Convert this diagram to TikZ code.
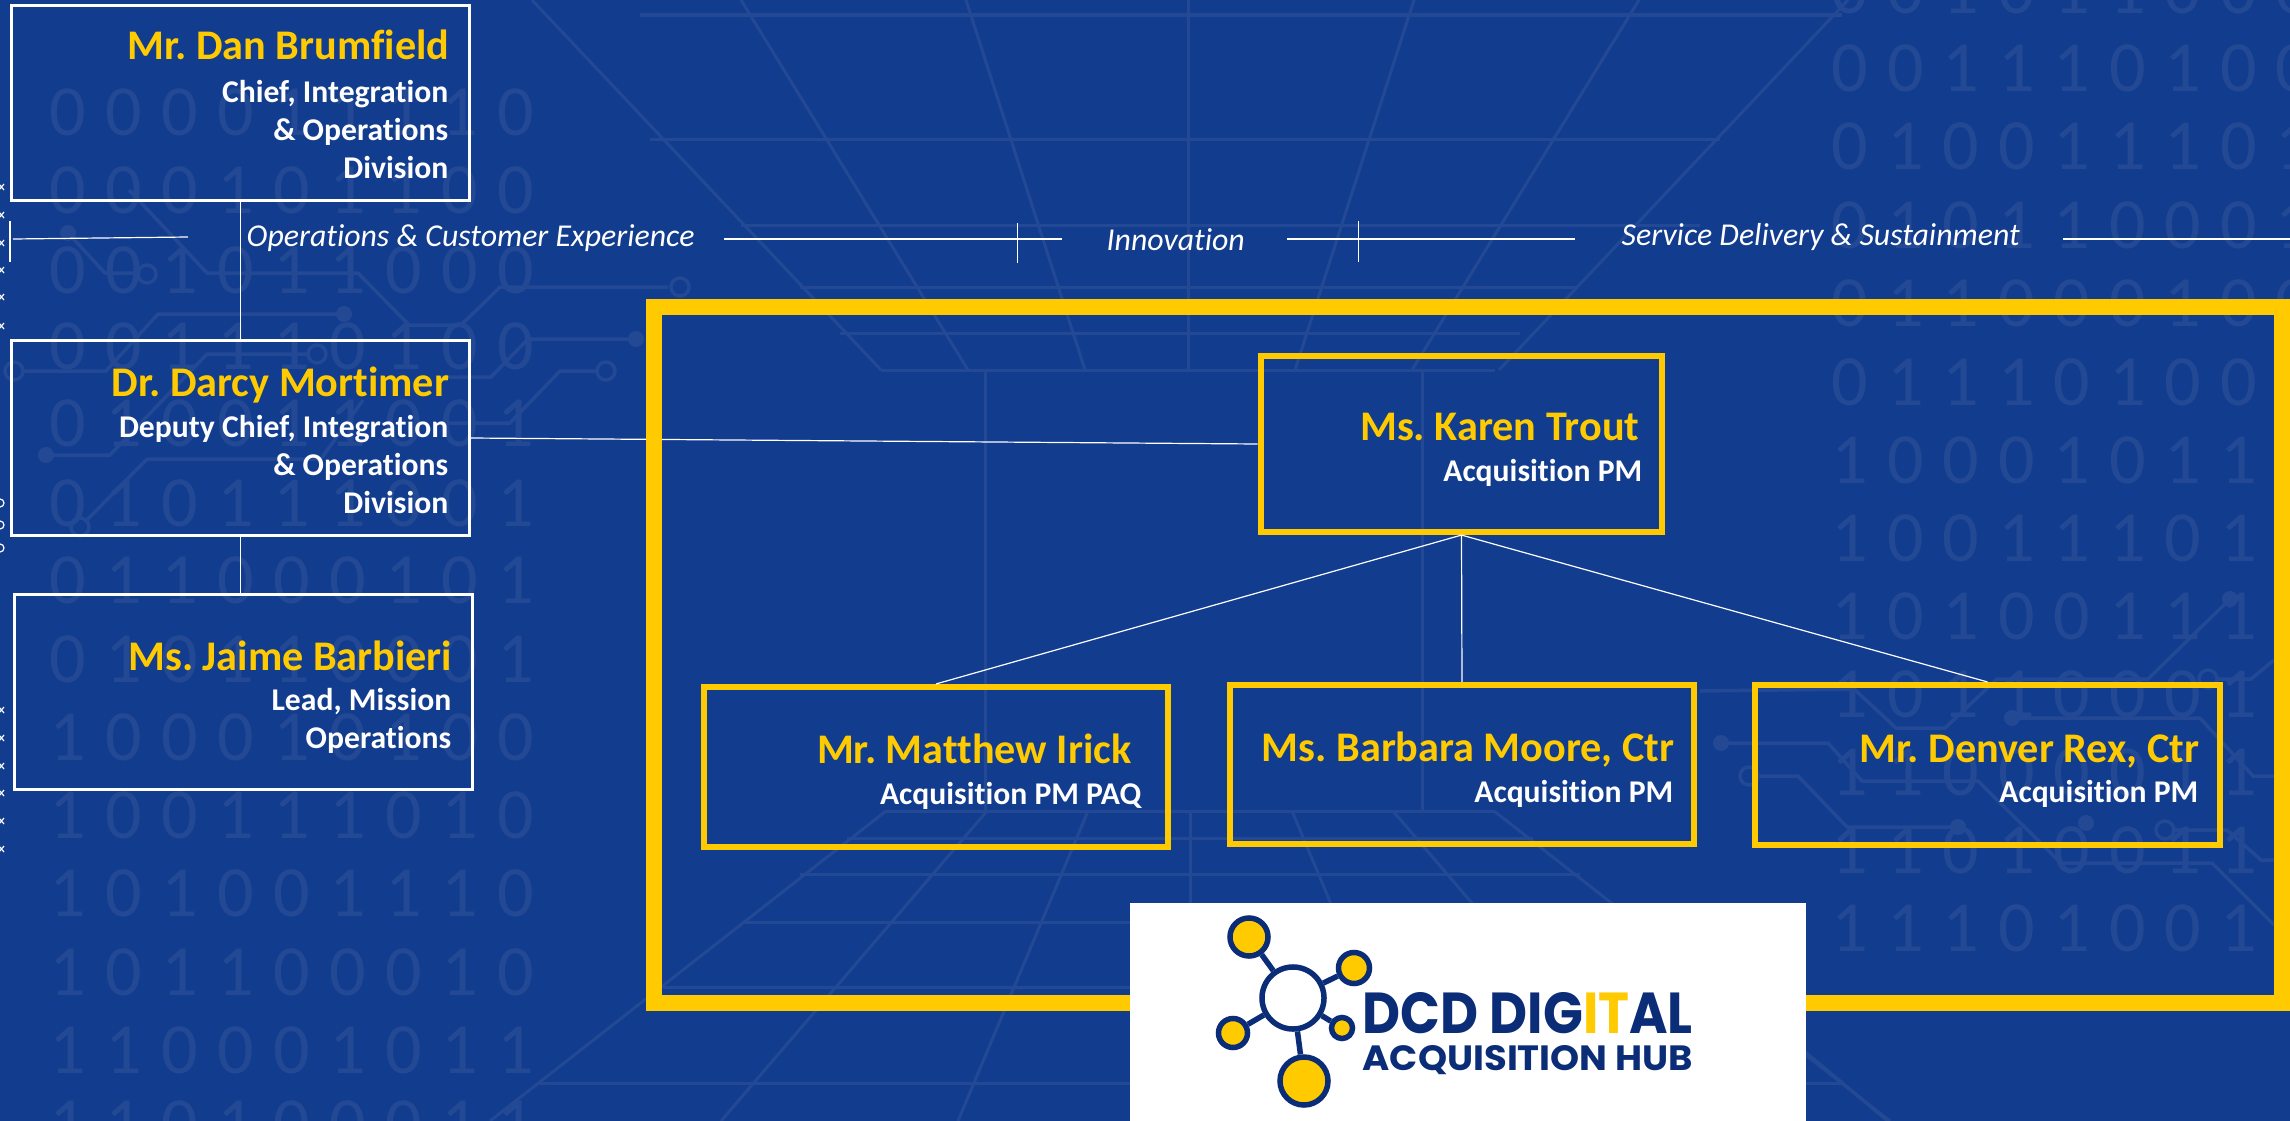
\documentclass[tikz,border=0pt]{standalone}
\usepackage{fontspec}
\setmainfont{Carlito}[Ligatures=NoCommon]
\newfontfamily\logofont{Poppins}
\usetikzlibrary{shapes,backgrounds}
\usetikzlibrary{calc}
\definecolor{bgblue}{HTML}{123C8E}
\definecolor{faintblue}{HTML}{234995}
\definecolor{gold}{HTML}{FFCB00}
\definecolor{logonavy}{HTML}{0B2D78}
\frenchspacing
\tikzset{
  x=0.01cm,y=-0.01cm,
  whitebox/.style={draw=white,line width=0.03cm,rectangle,inner sep=0pt},
  goldbox/.style={draw=gold,line width=0.06cm,rectangle,inner sep=0pt},
  person/.style={anchor=base east,inner sep=0pt,text=gold,font=\fontsize{12}{13}\selectfont\bfseries},
  role/.style={anchor=base east,inner sep=0pt,text=white,align=right,font=\fontsize{9}{10.8}\selectfont\bfseries},
  theme/.style={anchor=base west,inner sep=0pt,text=white,font=\fontsize{9.05}{10}\selectfont\itshape},
  wire/.style={draw=white,line width=0.012cm},
  trace/.style={draw=faintblue,line width=0.035cm},
  gridline/.style={draw=faintblue,line width=0.03cm},
  bit/.style={inner sep=0pt,text=faintblue,font=\fontsize{20.5}{22}\selectfont},
  sat/.style={circle,draw=logonavy,fill=gold,line width=0.055cm,inner sep=0pt}
}
\begin{document}
\begin{tikzpicture}
\useasboundingbox (0,0) rectangle (2290,1121);
\fill[bgblue] (0,0) rectangle (2290,1121);

% background grid
\foreach \yy/\xa/\xb in {15/640/1842,139/650/1720,225/741/1700,287/800/1575,333/840/1520,370/881/1495,811/886/1494,838/847/1533,874/800/1580,922/742/1638,987/663/1717,1083/537/1843}
  \draw[gridline] (\xa,\yy) -- (\xb,\yy);
\foreach \xa/\xb in {532/881,741/968,966/1085,1848/1499,1639/1412,1414/1295}
  \draw[gridline] (\xa,0) -- (\xb,370);
\foreach \xa/\xb in {490/886,721/987,958/1088,1890/1494,1659/1393,1422/1292}
  \draw[gridline] (\xa,1121) -- (\xb,811);
\draw[gridline] (1188,0) -- (1188,370) (1190,811) -- (1190,1121);
\draw[gridline] (985,370) -- (985,811) (1422,370) -- (1422,811);

% binary rows
\foreach \yy/\bits in {112/{0,0,0,0,1,1,1,1,0},190/{0,0,0,1,0,1,1,0,0},270/{0,0,1,0,1,1,0,0,0},346/{0,0,1,1,1,0,1,0,0},423/{0,1,0,0,1,1,0,0,1},503/{0,1,0,1,1,1,0,0,1},580/{0,1,1,0,0,0,1,0,1},659/{0,1,0,1,1,0,0,0,1},737/{1,0,0,0,1,0,1,0,0},815/{1,0,0,1,1,1,0,1,0},893/{1,0,1,0,0,1,1,1,0},972/{1,0,1,1,0,0,0,1,0},1050/{1,1,0,0,0,1,0,1,1},1124/{1,1,0,1,0,0,0,1,1}}
  \foreach \d [count=\c] in \bits
    \node[bit] (l\yy-\c) at (68+56*\c-56,\yy) {\d};
\foreach \yy/\bits in {-10/{0,0,1,0,1,1,0,0,0},68/{0,0,1,1,1,0,1,0,0},146/{0,1,0,0,1,1,1,0,1},225/{0,1,0,1,1,0,0,0,1},303/{0,1,1,0,0,0,1,0,0},382/{0,1,1,1,0,1,0,0},460/{1,0,0,0,1,0,1,1},538/{1,0,0,1,1,1,0,1},616/{1,0,1,0,0,1,1,1},694/{1,0,1,1,0,0,0,1},772/{1,1,0,0,0,0,1,1},850/{1,1,0,1,0,0,1,1},928/{1,1,1,0,1,0,0,1}}
  \foreach \d [count=\c] in \bits
    \node[bit] (r\yy-\c) at (1850+55.5*\c-55.5,\yy) {\d};

% circuit traces
\draw[trace] (68,233) -- (105,273) -- (140,273);
\draw[trace] (129,190) -- (207,273) -- (358,273) -- (409,325) -- (461,325) -- (487,300) -- (500,287) -- (668,287);
\draw[trace] (344,314) -- (158,314) -- (106,371) -- (24,371);
\draw[trace] (307,354) -- (207,354) -- (110,455) -- (46,455);
\draw[trace] (636,339) -- (528,339) -- (491,377) -- (440,377);
\draw[trace] (596,371) -- (560,371) -- (510,423) -- (441,423);
\draw[trace] (85,522) -- (147,459) -- (321,459) -- (363,400);
\draw[trace] (2230,599) -- (2148,679) -- (1997,679) -- (1945,728) -- (1896,728) -- (1854,689) -- (1700,691);
\draw[trace] (2012,718) -- (2200,718) -- (2253,776) -- (2274,776);
\draw[trace] (1721,743) -- (1828,743) -- (1862,781) -- (1978,781) -- (2061,863) -- (2212,863) -- (2274,925);
\draw[trace] (1758,776) -- (1798,776) -- (1847,827) -- (1958,827);
\draw[trace] (2175,830) -- (2227,830) -- (2261,860) -- (2274,860);
\draw[trace] (2218,679) -- (2251,679) -- (2274,660);
\draw[trace] (1805,1052) -- (1888,1121);
\foreach \px/\py in {68/233,344/314,46/455,636/339,2230/599,2012/718,1721/743,1958/827,2086/823}
  \fill[faintblue] (\px,\py) circle (0.08cm);
\foreach \px/\py in {147/274,317/354,14/371,606/371,80/527,680/287,1749/776,2165/830,2208/679}
  \draw[trace] (\px,\py) circle (0.09cm);

% clipped marks on the left edge
\foreach \py in {187,215,243,270,297,326,710,738,766,793,821,849}
  \draw[white,line width=0.012cm] (-1,\py-3) -- (4,\py+3) (-1,\py+3) -- (4,\py-3);
\foreach \py in {503,525,548}
  \draw[white,line width=0.012cm] (0,\py) circle (0.04cm);
\draw[gold,line width=0.03cm] (942,-2) arc (180:360:9);

% theme row
\coordinate (stubA) at (13,239);
\coordinate (stubB) at (188,237);
\coordinate (opsA) at (724,239);
\coordinate (opsB) at (1062,239);
\coordinate (innoA) at (1287,239);
\coordinate (innoB) at (1575,239);
\coordinate (svcA) at (2063,239);
\coordinate (svcB) at (2290,239);
\coordinate (tickAa) at (10,221);
\coordinate (tickAb) at (10,262);
\coordinate (tickBa) at (1017.5,223);
\coordinate (tickBb) at (1017.5,263);
\coordinate (tickCa) at (1358.5,221);
\coordinate (tickCb) at (1358.5,262);
\draw[wire] (stubA) -- (stubB);
\draw[wire] (opsA) -- (opsB);
\draw[wire] (innoA) -- (innoB);
\draw[wire] (svcA) -- (svcB);
\draw[wire] (tickAa) -- (tickAb);
\draw[wire] (tickBa) -- (tickBb);
\draw[wire] (tickCa) -- (tickCb);
\node[theme] (ops) at (246,246) {Operations \& Customer Experience};
\node[theme] (inno) at (1106,250) {Innovation};
\node[theme] (svc) at (1621,245) {Service Delivery \& Sustainment};

% left column
\node[whitebox,minimum width=4.57cm,minimum height=1.95cm] (dan) at (240.5,103) {};
\node[whitebox,minimum width=4.57cm,minimum height=1.94cm] (darcy) at (240.5,438) {};
\node[whitebox,minimum width=4.57cm,minimum height=1.94cm] (jaime) at (243.5,692) {};
\node[person] (danname) at (450,60) {Mr. Dan Brumfield};
\node[role] (danrole) at (449,178) {Chief, Integration\\\& Operations\\Division};
\node[person] (darcyname) at (450,396) {Dr. Darcy Mortimer};
\node[role] (darcyrole) at (449,513) {Deputy Chief, Integration\\\& Operations\hspace{0.07cm}\\Division};
\node[person] (jaimename) at (453,670) {Ms. Jaime Barbieri};
\node[role] (jaimerole) at (452,748) {Lead, Mission\\Operations};
\draw[wire] (dan.south) -- (darcy.north);
\draw[wire] (darcy.south) -- (darcy.south |- jaime.north);

% acquisition frame
\node[goldbox,minimum width=4.015cm,minimum height=1.76cm] (karen) at (1461.5,444) {};
\draw[wire] (darcy.east) -- (karen.west);
\node[draw=gold,line width=0.16cm,rectangle,inner sep=0pt,minimum width=16.28cm,minimum height=6.955cm] (frame) at (1468,655) {};
\node[goldbox,minimum width=4.64cm,minimum height=1.6cm] (matthew) at (936,767) {};
\node[goldbox,minimum width=4.64cm,minimum height=1.59cm] (barbara) at (1462,764.5) {};
\node[goldbox,minimum width=4.65cm,minimum height=1.6cm] (denver) at (1987.5,765) {};
\draw[wire] (karen.south) -- (matthew.north);
\draw[wire] (karen.south) -- (barbara.north);
\draw[wire] (karen.south) -- (denver.north);
\node[person] (karenname) at (1640,440) {Ms. Karen Trout};
\node[role] (karenrole) at (1643,481) {Acquisition PM};
\node[person] (matthewname) at (1132,763) {Mr. Matthew Irick};
\node[role] (matthewrole) at (1142,804) {Acquisition PM PAQ};
\node[person] (barbaraname) at (1675,761) {Ms. Barbara Moore, Ctr};
\node[role] (barbararole) at (1674,802) {Acquisition PM};
\node[person] (denvername) at (2200,762) {Mr. Denver Rex, Ctr};
\node[role] (denverrole) at (2199,802) {Acquisition PM};

% logo
\node[fill=white,inner sep=0pt,minimum width=6.76cm,minimum height=2.2cm,anchor=north west] (logobox) at (1129,902) {};
\node[circle,draw=logonavy,fill=white,line width=0.055cm,inner sep=0pt,minimum size=0.62cm] (hub) at (1293,998) {};
\node[sat,minimum size=0.38cm] (satA) at (1249,937) {};
\node[sat,minimum size=0.31cm] (satB) at (1354,968) {};
\node[sat,minimum size=0.29cm] (satC) at (1233,1033) {};
\node[sat,minimum size=0.21cm] (satD) at (1342,1028) {};
\node[sat,minimum size=0.48cm] (satE) at (1304,1081) {};
\foreach \s in {satA,satB,satC,satD,satE}
  \draw[logonavy,line width=0.055cm] (hub) -- (\s);
\node[anchor=base west,inner sep=0pt,text=logonavy] (logotop) at (1362,1033) {\resizebox{3.3cm}{0.41cm}{\logofont\bfseries DCD DIG\textcolor{gold}{IT}AL}};
\node[anchor=base west,inner sep=0pt,text=logonavy] (logobottom) at (1362,1070) {\resizebox{3.3cm}{0.25cm}{\logofont\bfseries ACQUISITION HUB}};
\end{tikzpicture}
\end{document}
